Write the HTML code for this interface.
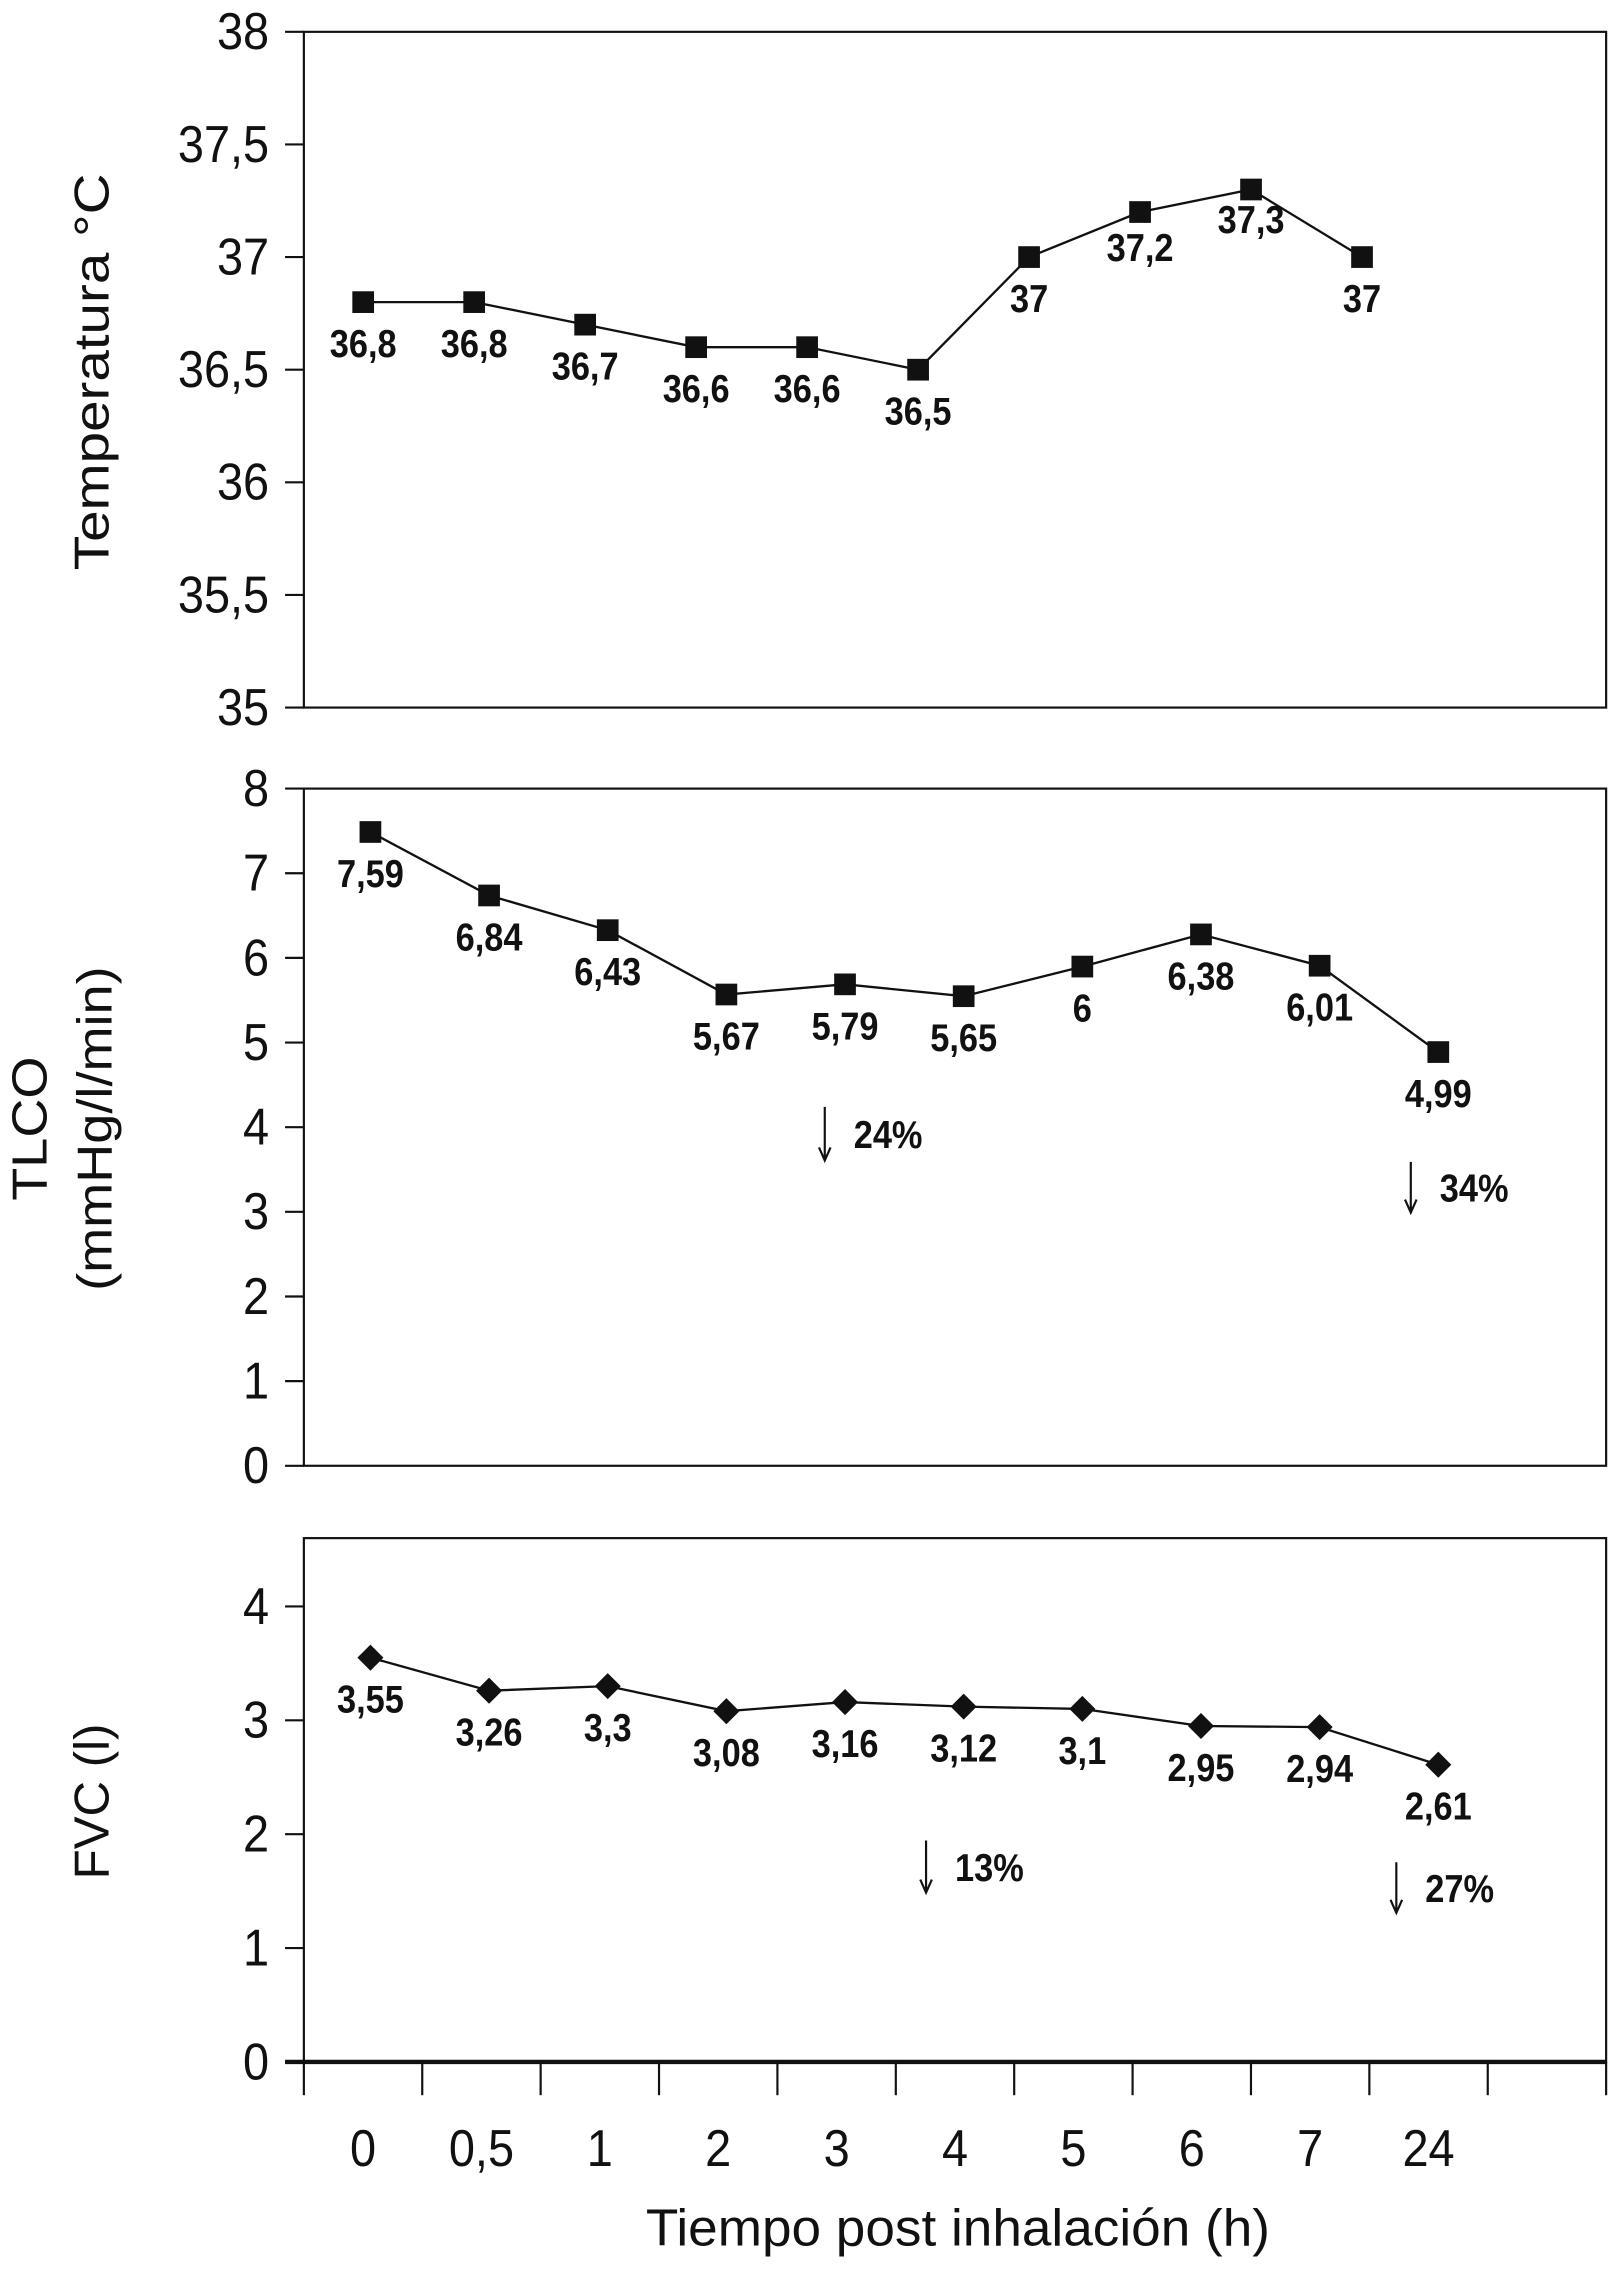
<!DOCTYPE html>
<html><head><meta charset="utf-8"><style>
html,body{margin:0;padding:0;background:#fff;}
svg{display:block;}
text{font-family:"Liberation Sans",sans-serif;fill:#111;}
</style></head><body>
<svg id="chart" width="1618" height="2270" viewBox="0 0 1118.2 1568.8" preserveAspectRatio="none" xmlns="http://www.w3.org/2000/svg"></svg>
<script>
const categories = ["0","0,5","1","2","3","4","5","6","7","24"];
const tempValues = [36.8,36.8,36.7,36.6,36.6,36.5,37,37.2,37.3,37];
const tempTicks = ["35","35,5","36","36,5","37","37,5","38"];
const tlcoValues = [7.59,6.84,6.43,5.67,5.79,5.65,6,6.38,6.01,4.99];
const tlcoLabels = ["7,59","6,84","6,43","5,67","5,79","5,65","6","6,38","6,01","4,99"];
const tlcoTicks = ["0","1","2","3","4","5","6","7","8"];
const fvcValues = [3.55,3.26,3.3,3.08,3.16,3.12,3.1,2.95,2.94,2.61];
const fvcLabels = ["3,55","3,26","3,3","3,08","3,16","3,12","3,1","2,95","2,94","2,61"];
const fvcTicks = ["0","1","2","3","4"];
const tempLabels = ["36,8","36,8","36,7","36,6","36,6","36,5","37","37,2","37,3","37"];

const svg = document.getElementById('chart');
const NS = "http://www.w3.org/2000/svg";
function mk(tag, attrs){const e=document.createElementNS(NS,tag);for(const k in attrs)e.setAttribute(k,attrs[k]);svg.appendChild(e);return e;}
function txt(x,y,s,size,anchor,weight,name,sx){
  const t=mk('text',{transform:`translate(${x},${y}) scale(${sx||0.8},1)`,'font-size':size,'text-anchor':anchor||'middle','font-weight':weight||'normal'});
  t.textContent=s;
  
  
  return t;
}
const L=210,R=1110;
function frame(top,bot,name){
  const r=mk('rect',{x:L,y:top,width:R-L,height:bot-top,fill:'none',stroke:'#111','stroke-width':1.5});
  
  
}
function yticks(ticks,vals,yf,name){
  ticks.forEach((t,i)=>{
    const y=yf(vals[i]);
    const l=mk('line',{x1:L-13,x2:L,y1:y,y2:y,stroke:'#111','stroke-width':1.5});
    
    
    txt(L-24,y+12,t,36,'end','normal',name+'-tick-label',0.9);
  });
}
function series(vals,labels,xf,yf,yplot,marker,labOff,name){
  const pts=vals.map((v,i)=>[xf(i),yplot(v)]);
  const pl=mk('polyline',{points:pts.map(p=>p.join(',')).join(' '),fill:'none',stroke:'#111','stroke-width':1.6});
  
  
  pts.forEach((p,i)=>{
    let m;
    if(marker==='sq') m=mk('rect',{x:p[0]-7.5,y:p[1]-7.5,width:15,height:15,fill:'#111'});
    else m=mk('polygon',{points:`${p[0]},${p[1]-9} ${p[0]+9},${p[1]} ${p[0]},${p[1]+9} ${p[0]-9},${p[1]}`,fill:'#111'});
    
    
    const off=labOff(i);
    txt(p[0]+off[0],p[1]+off[1],labels[i],27,'middle','bold',name+'-value-label',0.88);
  });
}
function arrow(x,y1,y2,label,name){
  const l=mk('path',{d:`M${x},${y1} L${x},${y2} M${x-4},${y2-9} L${x},${y2} L${x+4},${y2-9}`,fill:'none',stroke:'#111','stroke-width':1.5});
  
  
  txt(x+20,(y1+y2)/2+10,label,27,'start','bold',name+'-label',0.88);
}

// Panel 1: temperature
const t1=22,b1=489;
const yT=v=>b1-(v-35)/3*(b1-t1);
frame(t1,b1,'temperature-plot-frame');
yticks(tempTicks,[35,35.5,36,36.5,37,37.5,38],yT,'temperature-y');
const xT=i=>251+i*76.7;
series(tempValues,tempLabels,xT,yT,yT,'sq',i=>i===8?[0,30]:(i===7?[0,34]:[0,38]),'temperature');
const yl1=txt(0,0,'Temperatura °C',34,'middle','normal','temperature-y-axis-title',1);
yl1.setAttribute('transform','translate(75,257) rotate(-90) scale(1.15,1)');

// Panel 2: TLCO
const t2=545,b2=1013;
const yL=v=>b2-v/8*(b2-t2);
frame(t2,b2,'tlco-plot-frame');
yticks(tlcoTicks,[0,1,2,3,4,5,6,7,8],yL,'tlco-y');
const xC=i=>256+i*82;
series(tlcoValues,tlcoLabels,xC,yL,v=>yL(v)+6,'sq',i=>[0,38],'tlco');
arrow(570,765,802,'24%','tlco-drop-24');
arrow(975,803,838,'34%','tlco-drop-34');
const yl2a=txt(0,0,'TLCO',34,'middle','normal','tlco-y-axis-title',1);
yl2a.setAttribute('transform','translate(32,780) rotate(-90) scale(1.1,1)');
const yl2b=txt(0,0,'(mmHg/l/min)',34,'middle','normal','tlco-y-axis-units',1);
yl2b.setAttribute('transform','translate(77,780) rotate(-90) scale(1.1,1)');

// Panel 3: FVC
const t3=1063,b3=1425;
const yF=v=>b3-v*78.7;
frame(t3,b3,'fvc-plot-frame');
yticks(fvcTicks,[0,1,2,3,4],yF,'fvc-y');
series(fvcValues,fvcLabels,xC,yF,yF,'dia',i=>[0,38],'fvc');
arrow(640,1272,1308,'13%','fvc-drop-13');
arrow(965,1287,1322,'27%','fvc-drop-27');
const yl3=txt(0,0,'FVC (l)',34,'middle','normal','fvc-y-axis-title',1);
yl3.setAttribute('transform','translate(75,1245) rotate(-90)');

// x axis
const ax=mk('line',{x1:L-13,x2:R,y1:b3,y2:b3,stroke:'#111','stroke-width':3});


for(let k=0;k<=11;k++){
  const x=L+k*(R-L)/11;
  const tk=mk('line',{x1:x,x2:x,y1:b3,y2:b3+23,stroke:'#111','stroke-width':1.5});
  
  
}
categories.forEach((c,i)=>{
  txt(L+(i+0.5)*(R-L)/11,1497,c,36,'middle','normal','x-tick-label',0.9);
});
txt(662,1552,'Tiempo post inhalación (h)',36,'middle','normal','x-axis-title',1.02);
</script>
</body></html>
